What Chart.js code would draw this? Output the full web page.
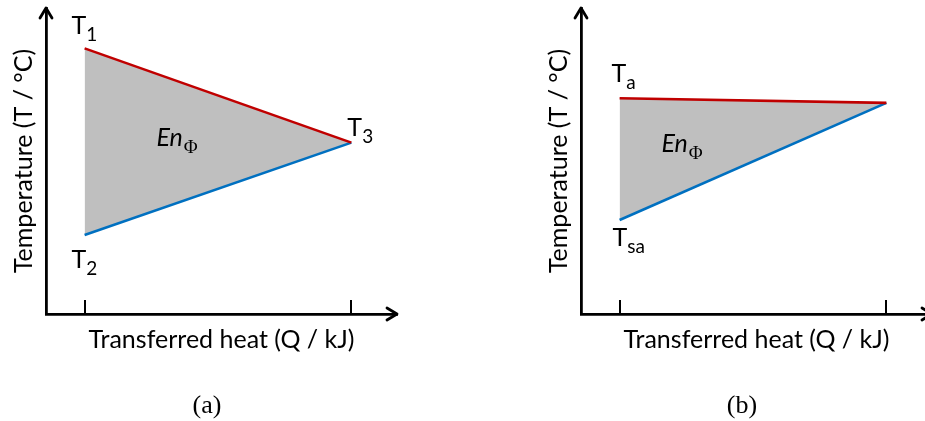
<!DOCTYPE html>
<html lang="en">
<head>
<meta charset="UTF-8">
<title>Transferred heat and temperature</title>
<script src="https://cdn.jsdelivr.net/npm/chart.js"></script>
<style>
  body { margin: 0; width: 925px; height: 421px; overflow: hidden; background: #fff; position: relative; }
  .panel { position: absolute; top: 0; }
  .caption {
    position: absolute; top: 390px; width: 80px; line-height: 30px; text-align: center;
    font-family: 'Liberation Serif', 'Times New Roman', serif; font-size: 26px; color: #000;
  }
</style>
</head>
<body>
<div class="panel" style="left:0"><canvas id="chartA" width="470" height="421"></canvas></div>
<div class="panel" style="left:535px"><canvas id="chartB" width="470" height="421"></canvas></div>
<div class="caption" style="left:167px">(a)</div>
<div class="caption" style="left:702px">(b)</div>
<script>
// heat positions (arbitrary units) of the inlet and outlet ends
const heatPoints = [1.1, 8.7];
// (a) hot stream T1 -> T3, cold stream T2 -> T3
const hotA = [8.68, 5.6];
const coldA = [2.58, 5.6];
// (b) air Ta -> outlet, supply air Tsa -> outlet
const hotB = [7.05, 6.9];
const coldB = [3.07, 6.9];
const xTitle = 'Transferred heat (Q / kJ)';
const yTitle = 'Temperature (T / °C)';

const SANS = 'Lato, "Open Sans", sans-serif';

function pts(vals) {
  return heatPoints.map((q, i) => ({ x: q, y: vals[i] }));
}

// axis arrows, tick marks and the T / En labels
const marks = {
  id: 'marks',
  afterDraw(chart, args, opts) {
    const { ctx, chartArea: a, scales: { x, y } } = chart;
    ctx.save();
    ctx.strokeStyle = '#000';
    ctx.lineWidth = 2.8;
    ctx.lineCap = 'round';
    ctx.lineJoin = 'round';
    ctx.beginPath();
    ctx.moveTo(a.left - 6, a.top + 10);
    ctx.lineTo(a.left, a.top);
    ctx.lineTo(a.left + 6, a.top + 10);
    ctx.moveTo(a.right - 10, a.bottom - 6);
    ctx.lineTo(a.right, a.bottom);
    ctx.lineTo(a.right - 10, a.bottom + 6);
    ctx.stroke();

    ctx.lineWidth = 2;
    ctx.lineCap = 'butt';
    ctx.beginPath();
    heatPoints.forEach(q => {
      const px = Math.round(x.getPixelForValue(q));
      ctx.moveTo(px, a.bottom - 14);
      ctx.lineTo(px, a.bottom);
    });
    ctx.stroke();

    ctx.fillStyle = '#000';
    ctx.textBaseline = 'alphabetic';
    ctx.textAlign = 'left';
    opts.labels.forEach(l => {
      const px = x.getPixelForValue(l.q) + l.dx;
      const py = y.getPixelForValue(l.t) + l.dy;
      ctx.font = '25px ' + SANS;
      ctx.fillText('T', px, py);
      const w = ctx.measureText('T').width;
      ctx.font = '19px ' + SANS;
      ctx.fillText(l.sub, px + w, py + 7);
    });

    // En with Phi subscript, centred on the shaded triangle
    const d0 = chart.data.datasets[0].data, d1 = chart.data.datasets[1].data;
    const cx = (x.getPixelForValue(d0[0].x) * 2 + x.getPixelForValue(d0[1].x)) / 3;
    const cy = (y.getPixelForValue(d0[0].y) + y.getPixelForValue(d1[0].y) + y.getPixelForValue(d0[1].y)) / 3;
    ctx.font = 'italic 25px ' + SANS;
    const wEn = ctx.measureText('En').width;
    ctx.font = '19px "Liberation Serif", serif';
    const wPhi = ctx.measureText('Φ').width;
    const sx = cx - (wEn + wPhi) / 2 + opts.en[0];
    const sy = cy + opts.en[1];
    ctx.font = 'italic 25px ' + SANS;
    ctx.fillText('En', sx, sy);
    ctx.font = '19px "Liberation Serif", serif';
    ctx.fillText('Φ', sx + wEn + 1, sy + 7);
    ctx.restore();
  }
};

function makeChart(id, hot, cold, labels, en) {
  return new Chart(document.getElementById(id), {
    type: 'line',
    data: {
      datasets: [
        { data: pts(hot), borderColor: '#c00000', borderWidth: 2.6, pointRadius: 0, fill: false },
        { data: pts(cold), borderColor: '#0070c0', borderWidth: 2.6, pointRadius: 0,
          fill: { target: 0 }, backgroundColor: '#bfbfbf' }
      ]
    },
    options: {
      responsive: false,
      animation: false,
      layout: { padding: { top: 8, right: 73, left: 0, bottom: 0 } },
      plugins: {
        legend: { display: false },
        tooltip: { enabled: false },
        marks: { labels: labels, en: en }
      },
      scales: {
        x: {
          type: 'linear', min: 0, max: 10,
          grid: { display: false, drawTicks: false },
          ticks: { display: false },
          border: { display: true, color: '#000', width: 2.8 },
          title: { display: true, text: xTitle, color: '#000',
                   font: { family: SANS, size: 25, lineHeight: 1.2 },
                   padding: { top: 11, bottom: 66 } }
        },
        y: {
          type: 'linear', min: 0, max: 10,
          grid: { display: false, drawTicks: false },
          ticks: { display: false },
          border: { display: true, color: '#000', width: 2.8 },
          title: { display: true, text: yTitle, color: '#000',
                   font: { family: SANS, size: 25, lineHeight: 1.2 },
                   padding: { top: 9, bottom: 7 } }
        }
      }
    },
    plugins: [marks]
  });
}

makeChart('chartA', hotA, coldA, [
  { sub: '1', q: heatPoints[0], t: hotA[0], dx: -13, dy: -14 },
  { sub: '2', q: heatPoints[0], t: coldA[0], dx: -13, dy: 33 },
  { sub: '3', q: heatPoints[1], t: hotA[1], dx: -4, dy: -7 }
], [3, 4]);

makeChart('chartB', hotB, coldB, [
  { sub: 'a', q: heatPoints[0], t: hotB[0], dx: -8, dy: -16 },
  { sub: 'sa', q: heatPoints[0], t: coldB[0], dx: -7, dy: 26 }
], [-27, 12]);
</script>
</body>
</html>
